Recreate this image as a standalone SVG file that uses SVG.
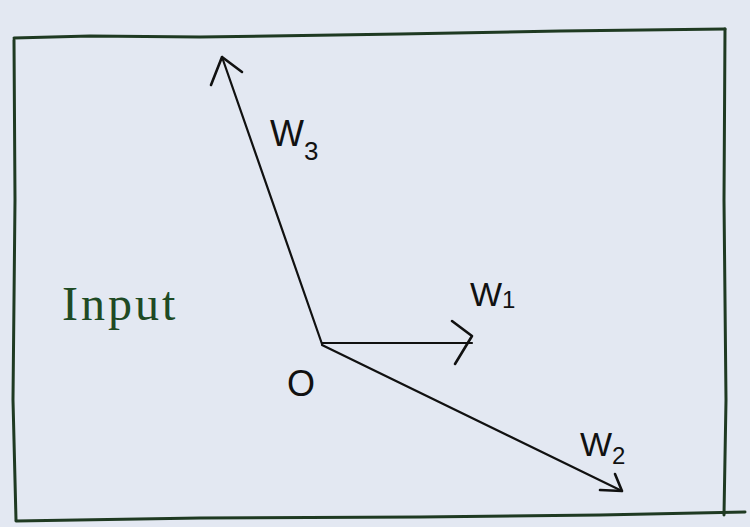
<svg xmlns="http://www.w3.org/2000/svg" width="750" height="527" viewBox="0 0 750 527">
<style>
.border{fill:none;stroke:#1f3a22;stroke-width:3;stroke-linejoin:round;stroke-linecap:round}
.vec{fill:none;stroke:#111;stroke-width:2.2;stroke-linecap:round}
.head{fill:none;stroke:#111;stroke-width:2.6;stroke-linecap:round;stroke-linejoin:round}
.lbl{font-family:"Liberation Sans",Arial,sans-serif;fill:#111}
.inp{font-family:"Liberation Serif","Times New Roman",serif;font-size:48px;fill:#1e4a24;letter-spacing:3px}
</style>
<rect width="750" height="527" fill="#e3e8f2"/>
<g id="frame">
<path class="border" d="M14 38 L90 36 L200 37 L400 34 L560 31 L725 29"/>
<path class="border" d="M725 29 L724 200 L726 400 L724 515"/>
<path class="border" d="M14 40 L15 200 L13 400 L16 520"/>
<path class="border" d="M16 521 L200 518 L420 517 L600 515 L745 512"/>
</g>
<g id="connectors">
<g id="vec-w3">
<line class="vec" x1="322" y1="344" x2="222" y2="57"/>
<path class="head" d="M211 85 L222 57 L242 72"/>
</g>
<g id="vec-w1">
<line class="vec" x1="322" y1="343" x2="472" y2="343"/>
<path class="head" d="M452 321 L472 336 L455 364"/>
</g>
<g id="vec-w2">
<line class="vec" x1="322" y1="345" x2="622" y2="491"/>
<path class="head" d="M600 490 L622 491 L615 474"/>
</g>
</g>
<g id="origin"><text class="lbl" x="287" y="396" font-size="36">O</text></g>
<g id="label-w3"><text class="lbl" x="270" y="146" font-size="36">W<tspan font-size="26" dy="14">3</tspan></text></g>
<g id="label-w1"><text class="lbl" x="470" y="306" font-size="34">W<tspan font-size="24" dy="2">1</tspan></text></g>
<g id="label-w2"><text class="lbl" x="580" y="456" font-size="34">W<tspan font-size="24" dy="8">2</tspan></text></g>
<g id="input"><text class="inp" x="62" y="320">Input</text></g>
</svg>
